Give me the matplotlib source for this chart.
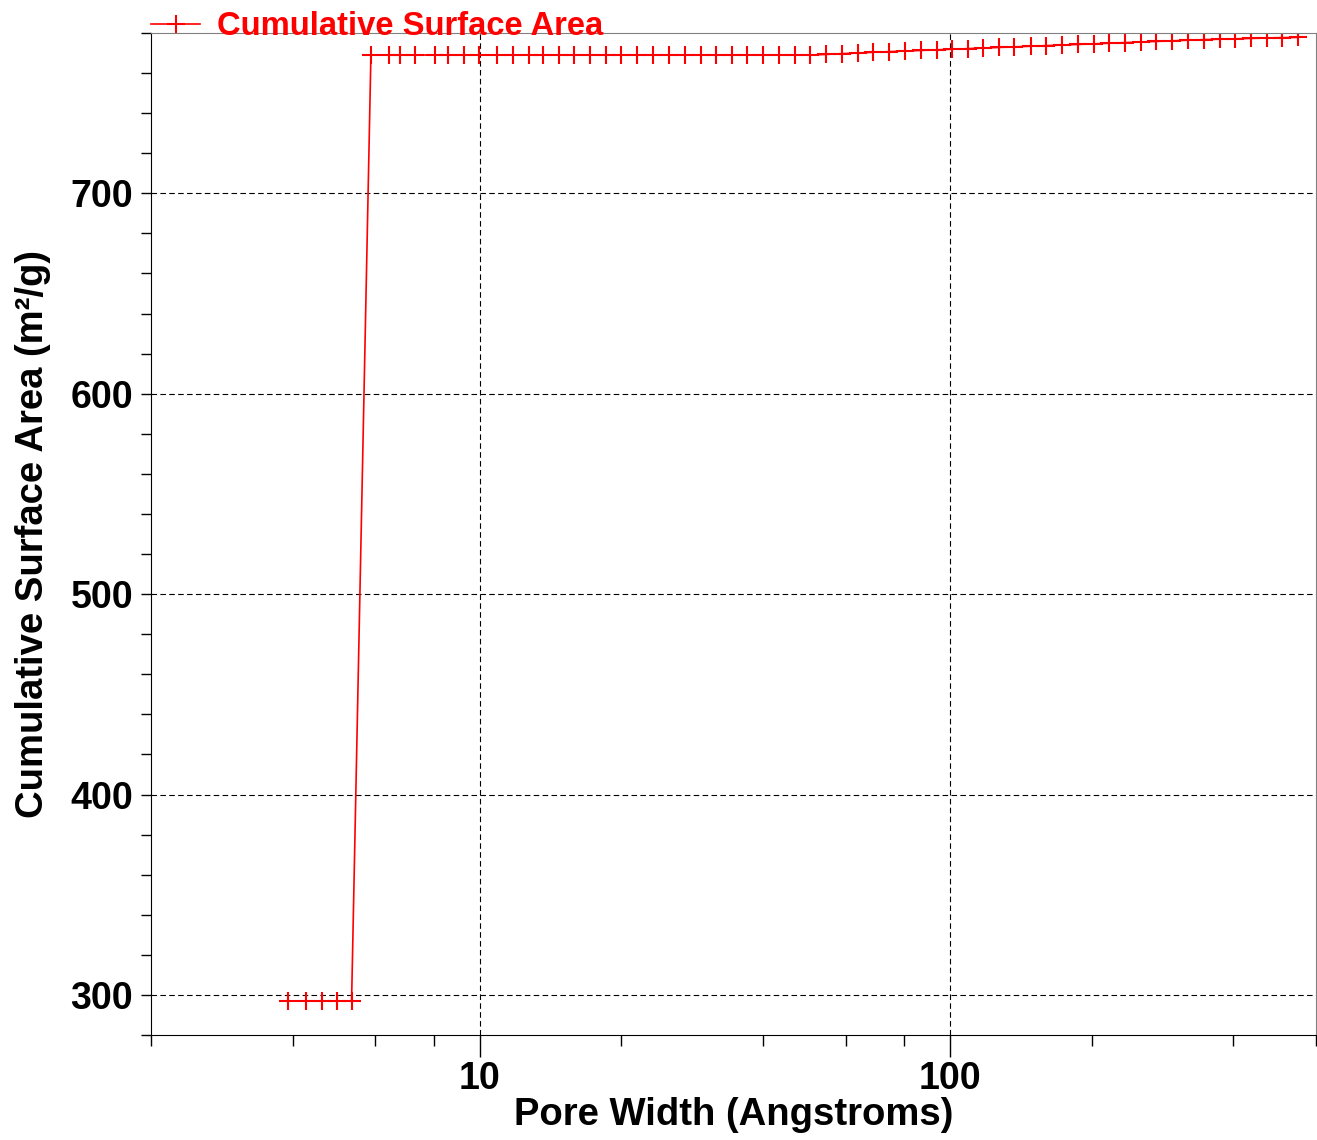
import matplotlib.pyplot as plt
from matplotlib.ticker import FixedLocator, NullFormatter

plt.rcParams['font.family'] = ['Liberation Sans', 'DejaVu Sans']
plt.rcParams['font.weight'] = 'bold'

# pore width (Angstroms) and cumulative surface area (m2/g)
width_low = [3.92, 4.27, 4.61, 4.98, 5.34]
area_low = [297, 297, 297, 297, 297]

width_high = [5.87, 6.40, 6.76, 7.30, 8.02, 8.56, 9.26, 9.95, 10.87, 11.76,
              12.72, 13.62, 14.74, 15.87, 17.14, 18.54, 19.98, 21.61, 23.38, 25.21,
              27.36, 29.49, 31.80, 34.34, 37.05, 40.12, 43.25, 46.72, 50.47, 54.41,
              58.86, 63.66, 68.64, 74.24, 80.20, 86.77, 93.67, 101.0, 109.4, 117.8,
              127.2, 137.1, 148.4, 160.2, 173.1, 187.2, 202.1, 217.9, 235.3, 254.2,
              274.6, 297.0, 320.6, 346.8, 374.1, 403.9, 436.2, 471.9, 508.6, 549.5]
area_high = [769.0, 769.0, 769.0, 769.0, 769.0, 769.0, 769.0, 769.0, 769.0, 769.0,
             769.0, 769.0, 769.0, 769.0, 769.0, 769.0, 769.0, 769.0, 769.0, 769.0,
             769.0, 769.0, 769.0, 769.0, 769.0, 769.0, 769.0, 769.0, 769.0, 769.3,
             769.7, 770.0, 770.4, 770.7, 771.0, 771.3, 771.6, 771.9, 772.2, 772.5,
             772.8, 773.1, 773.4, 773.7, 774.0, 774.3, 774.6, 774.9, 775.2, 775.5,
             775.8, 776.1, 776.4, 776.7, 776.9, 777.1, 777.3, 777.5, 777.7, 777.8]

pore_width = width_low + width_high
cum_area = area_low + area_high

x_major = [10, 100]
x_minor = [2, 4, 6, 8, 20, 40, 60, 80, 200, 400, 600]
y_major = [300, 400, 500, 600, 700]

fig = plt.figure(figsize=(13.17, 11.4), dpi=100)
ax = fig.add_axes([151 / 1317, 105 / 1140, 1165 / 1317, 1002 / 1140])

ax.plot(pore_width, cum_area, color='red', lw=1.2, marker='+', ms=13.5, mew=1.5,
        label='Cumulative Surface Area')

ax.set_xscale('log')
ax.set_xlim(2, 600)
ax.set_ylim(280, 780)

ax.xaxis.set_major_locator(FixedLocator(x_major))
ax.xaxis.set_minor_locator(FixedLocator(x_minor))
ax.xaxis.set_minor_formatter(NullFormatter())
ax.set_xticklabels(['10', '100'])
ax.yaxis.set_major_locator(FixedLocator(y_major))
ax.yaxis.set_minor_locator(FixedLocator(list(range(280, 781, 20))))

ax.tick_params(axis='x', which='major', length=16, width=1, direction='out', pad=3, labelsize=27)
ax.tick_params(axis='x', which='minor', length=8, width=1, direction='out')
ax.tick_params(axis='y', which='major', length=7, width=1, direction='out', pad=6, labelsize=27)
ax.tick_params(axis='y', which='minor', length=7, width=1, direction='out')

ax.grid(True, which='major', color='black', ls=(0, (5, 3)), lw=0.8)

for s in ['top', 'right']:
    ax.spines[s].set_color('#808080')
ax.spines['left'].set_color('black')
ax.spines['bottom'].set_color('black')

ax.set_xlabel('Pore Width (Angstroms)', fontsize=27.5, fontweight='bold', labelpad=0)
ax.set_ylabel('Cumulative Surface Area (m²/g)', fontsize=27.5, fontweight='bold', labelpad=14)

leg = ax.legend(loc='center left', bbox_to_anchor=(0, 1.006), frameon=False,
                prop={'size': 23.6, 'weight': 'bold'}, labelcolor='red',
                handlelength=1.5, handletextpad=0.5, borderaxespad=0, borderpad=0)
leg.set_clip_on(False)

fig.savefig('out.png', dpi=100)
